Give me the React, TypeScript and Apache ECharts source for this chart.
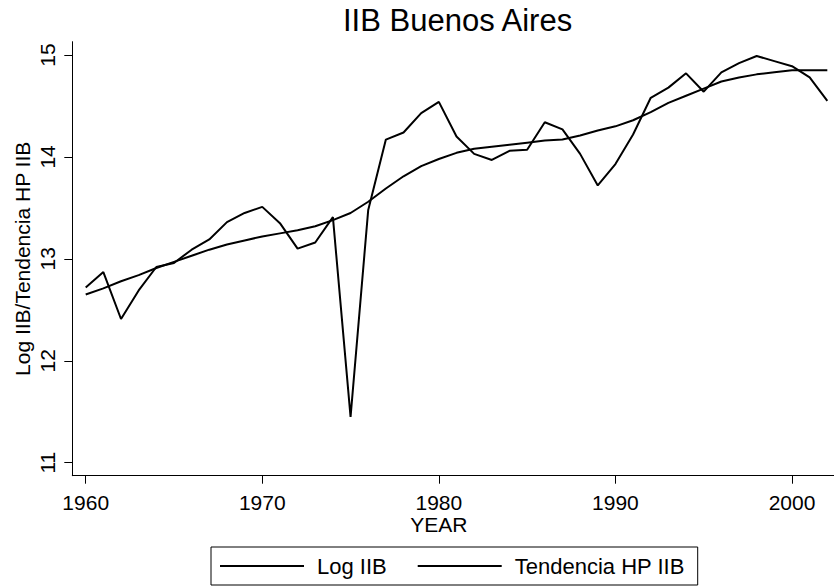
import React, { useEffect, useRef } from "react";
import * as echarts from "echarts";

const years = [
  1960, 1961, 1962, 1963, 1964, 1965, 1966, 1967, 1968, 1969,
  1970, 1971, 1972, 1973, 1974, 1975, 1976, 1977, 1978, 1979,
  1980, 1981, 1982, 1983, 1984, 1985, 1986, 1987, 1988, 1989,
  1990, 1991, 1992, 1993, 1994, 1995, 1996, 1997, 1998, 1999,
  2000, 2001, 2002,
];

const logIIB = [
  12.72, 12.87, 12.41, 12.69, 12.92, 12.96, 13.09, 13.19, 13.36, 13.45,
  13.51, 13.35, 13.10, 13.16, 13.41, 11.45, 13.48, 14.17, 14.24, 14.43,
  14.54, 14.20, 14.03, 13.97, 14.06, 14.07, 14.34, 14.27, 14.03, 13.72,
  13.93, 14.22, 14.58, 14.68, 14.82, 14.64, 14.83, 14.92, 14.99, 14.94,
  14.89, 14.78, 14.55,
];

const trendHP = [
  12.65, 12.71, 12.78, 12.84, 12.91, 12.97, 13.03, 13.09, 13.14, 13.18,
  13.22, 13.25, 13.28, 13.32, 13.38, 13.45, 13.56, 13.69, 13.81, 13.91,
  13.98, 14.04, 14.08, 14.10, 14.12, 14.14, 14.16, 14.17, 14.21, 14.26,
  14.30, 14.36, 14.44, 14.53, 14.60, 14.67, 14.74, 14.78, 14.81, 14.83,
  14.85, 14.85, 14.85,
];

const seriesNames = ["Log IIB", "Tendencia HP IIB"];
const titleText = "IIB Buenos Aires";
const xTitle = "YEAR";
const yTitle = "Log IIB/Tendencia HP IIB";

// tick range shown on the axes
const xTickMin = 1960;
const xTickMax = 2000;
const xTickStep = 10;
const yTickMin = 11;
const yTickMax = 15;
const yTickStep = 1;

const FONT = "'Liberation Sans', Arial, Helvetica, sans-serif";

// layout (pixels)
const W = 834;
const H = 588;
const axisLeft = 72.3; // y axis line
const axisBottom = 475.7; // x axis line
const axisTop = 41.7;
const axisRight = 834;
const tickLeft = 85.7; // x of 1960
const tickRight = 792; // x of 2000
const tickTop = 55; // y of 15
const tickBottom = 462.7; // y of 11

export default function App() {
  const ref = useRef<HTMLDivElement>(null);

  useEffect(() => {
    if (!ref.current) return;
    const chart = echarts.init(ref.current, undefined, { renderer: "svg" });
    const pair = (vals: number[]) => years.map((y, i) => [y, vals[i]]);

    const pxPerX = (tickRight - tickLeft) / (xTickMax - xTickMin);
    const pxPerY = (tickBottom - tickTop) / (yTickMax - yTickMin);
    const outerXMin = xTickMin - (tickLeft - axisLeft) / pxPerX;
    const outerXMax = xTickMax + (axisRight - tickRight) / pxPerX;
    const outerYMin = yTickMin - (axisBottom - tickBottom) / pxPerY;
    const outerYMax = yTickMax + (tickTop - axisTop) / pxPerY;

    const option: any = {
      animation: false,
      backgroundColor: "#ffffff",
      textStyle: { fontFamily: FONT, color: "#000" },
      title: {
        text: titleText,
        left: 343,
        top: 5,
        padding: 0,
        textStyle: { fontFamily: FONT, fontSize: 31, fontWeight: "normal", color: "#000" },
      },
      legend: {
        data: seriesNames,
        left: 211,
        top: 547,
        orient: "horizontal",
        icon: "rect",
        itemWidth: 84,
        itemHeight: 2,
        itemGap: 31,
        padding: [8, 13, 8, 9],
        borderColor: "#000",
        borderWidth: 1,
        borderRadius: 0,
        textStyle: { fontFamily: FONT, fontSize: 22, color: "#000", padding: [0, 0, 0, 8] },
      },
      grid: [
        {
          left: axisLeft,
          right: W - axisRight,
          top: axisTop,
          bottom: H - axisBottom,
          containLabel: false,
        },
        {
          left: tickLeft,
          right: W - tickRight,
          top: tickTop,
          bottom: H - tickBottom,
          containLabel: false,
        },
      ],
      xAxis: [
        {
          type: "value",
          gridIndex: 0,
          min: outerXMin,
          max: outerXMax,
          axisLine: { show: true, lineStyle: { color: "#000", width: 1 } },
          axisTick: { show: false },
          axisLabel: { show: false },
          splitLine: { show: false },
        },
        {
          type: "value",
          gridIndex: 1,
          min: xTickMin,
          max: xTickMax,
          interval: xTickStep,
          offset: axisBottom - tickBottom,
          name: xTitle,
          nameLocation: "middle",
          nameGap: 38,
          nameMoveOverlap: false,
          nameTextStyle: { fontFamily: FONT, fontSize: 21, color: "#000" },
          axisLine: { show: false },
          axisTick: { show: true, length: 8, lineStyle: { color: "#000", width: 1 } },
          axisLabel: {
            fontFamily: FONT,
            fontSize: 21,
            color: "#000",
            margin: 16,
            formatter: (v: number) => String(v),
          },
          splitLine: { show: false },
        },
      ],
      yAxis: [
        {
          type: "value",
          gridIndex: 0,
          min: outerYMin,
          max: outerYMax,
          axisLine: { show: true, lineStyle: { color: "#000", width: 1 } },
          axisTick: { show: false },
          axisLabel: { show: false },
          splitLine: { show: false },
        },
        {
          type: "value",
          gridIndex: 1,
          min: yTickMin,
          max: yTickMax,
          interval: yTickStep,
          offset: tickLeft - axisLeft,
          name: yTitle,
          nameLocation: "middle",
          nameGap: 39,
          nameRotate: 90,
          nameMoveOverlap: false,
          nameTextStyle: { fontFamily: FONT, fontSize: 21, color: "#000" },
          axisLine: { show: false },
          axisTick: { show: true, length: 8, lineStyle: { color: "#000", width: 1 } },
          axisLabel: {
            fontFamily: FONT,
            fontSize: 21,
            color: "#000",
            margin: 14,
            rotate: 90,
            formatter: (v: number) => String(v),
          },
          splitLine: { show: false },
        },
      ],
      series: [
        {
          name: seriesNames[0],
          type: "line",
          xAxisIndex: 0,
          yAxisIndex: 0,
          data: pair(logIIB),
          showSymbol: false,
          symbol: "none",
          lineStyle: { color: "#000", width: 2 },
          itemStyle: { color: "#000" },
        },
        {
          name: seriesNames[1],
          type: "line",
          xAxisIndex: 0,
          yAxisIndex: 0,
          data: pair(trendHP),
          showSymbol: false,
          symbol: "none",
          lineStyle: { color: "#000", width: 2 },
          itemStyle: { color: "#000" },
        },
      ],
    };
    chart.setOption(option);
    return () => chart.dispose();
  }, []);

  return (
    <div
      ref={ref}
      style={{ position: "fixed", left: 0, top: 0, width: W, height: H, background: "#fff" }}
    />
  );
}
